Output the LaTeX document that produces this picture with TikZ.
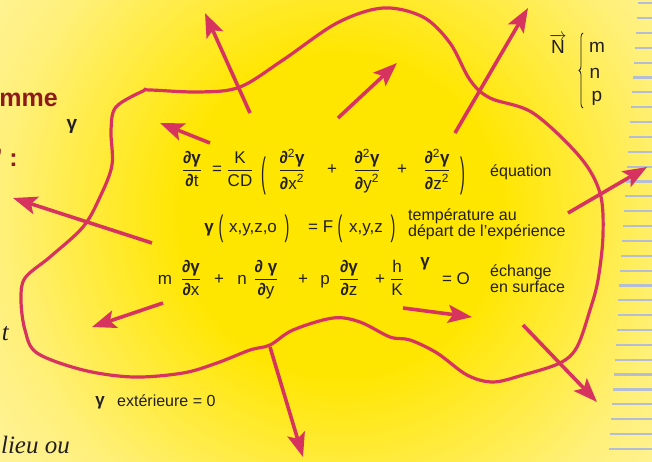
\documentclass[tikz,border=0pt]{standalone}
\usepackage{fontspec}
\setmainfont{Liberation Serif}
\setsansfont{Liberation Sans}
\usepackage{amsmath}
\usetikzlibrary{arrows.meta, decorations.pathreplacing}

% a fraction whose parts are plain text, bar drawn a little heavier
\newcommand{\pfrac}[2]{\ensuremath{\genfrac{}{}{1.1pt}{0}{\text{#1}}{\text{#2}}}}
\newcommand{\dpart}{{\bfseries ∂}}
\newcommand{\gam}{{\bfseries γ}}
\newcommand{\tallp}[2][1.35]{\scalebox{0.85}[#1]{#2}}

\begin{document}
\begin{tikzpicture}[
    x=1pt, y=-1pt,
    every node/.style={font=\sffamily, inner sep=0pt},
]

% ---------------------------------------------------------------- colours
\definecolor{sunyellow}{HTML}{FFE600}   % heart of the body
\definecolor{sunmid}{HTML}{FFF07A}
\definecolor{sunpale}{HTML}{FFF8D2}
\definecolor{raycolor}{HTML}{D6345F}    % outline and flux arrows
\definecolor{inkcolor}{HTML}{231F20}
\definecolor{titlered}{HTML}{8E1B1B}
\definecolor{stripecolor}{HTML}{B4BDD6}

\pgfdeclareradialshading{sunglow}{\pgfpointorigin}{%
    color(0bp)=(sunyellow); color(8bp)=(sunyellow);
    color(17bp)=(sunmid); color(29bp)=(sunpale);
    color(42bp)=(white); color(50bp)=(white)}

% ---------------------------------------------------------------- styles
\tikzset{
    ray/.style={
        -{Stealth[length=24pt, width=18pt, inset=5pt]},
        line width=3.6pt, raycolor,
    },
    rim/.style={line width=3.2pt, raycolor},
    stripe/.style={line width=2.2pt, stripecolor},
    eqpart/.style={font=\sffamily\fontsize{17}{20}\selectfont, text=inkcolor},
    note/.style={
        font=\sffamily\fontsize{16}{14.5}\selectfont, text=inkcolor,
        align=left,
    },
    normal/.style={font=\sffamily\fontsize{19}{25}\selectfont, text=inkcolor},
    cutbold/.style={font=\sffamily\bfseries\fontsize{25}{25}\selectfont,
        text=titlered},
    cutital/.style={font=\rmfamily\itshape\fontsize{25}{25}\selectfont,
        text=inkcolor},
}

% ================================================================
% GEOMETRY (pixels, y grows downward)
%   page           652 x 462
%   equation rows  baseline y = 175 / 233 / 284
%   notes          x = 490 (right of the equations)
%   stripes        right edge, every 14.85
% ================================================================

\useasboundingbox (0,0) rectangle (652,462);
\clip (0,0) rectangle (652,462);

% ---------------------------------------------------------------- background
\fill[sunpale] (0,0) rectangle (652,462);
\shade[shading=sunglow] (340,215) circle (500);

% page edges of the book, longer towards the bottom
\foreach \k in {0,...,31} {
    \pgfmathsetmacro{\yy}{3.3+14.85*\k}
    \draw[stripe] ({638-0.065*\yy},\yy) -- (652,\yy);
}

% ---------------------------------------------------------------- the body
\draw[rim] plot[smooth cycle, tension=0.55] coordinates {
    (150,90) (200,92) (240,87) (283,60) (337,23) (383,8) (423,17)
    (450,43) (470,80) (490,98) (533,113) (580,157) (600,193) (603,235)
    (598,280) (590,310) (577,347) (560,363) (523,375) (493,382)
    (467,375) (437,353) (410,340) (390,337) (360,322) (333,318)
    (293,330) (270,345) (250,350) (217,363) (183,373) (133,377)
    (83,370) (37,353) (25,330) (21,300) (25,278) (50,257) (83,227)
    (100,197) (112,165) (111,130) (116,107) (143,91)
};

% ---------------------------------------------------------------- flux arrows
\foreach \ax/\ay/\bx/\by in {250/113/205/13, 338/118/397/63,
        455/133/528/8, 210/143/160/123, 152/243/13/198, 163/303/92/327,
        270/347/303/457, 403/308/472/317, 523/325/597/402,
        568/213/647/167} {
    \draw[ray] (\ax,\ay) -- (\bx,\by);
}

% ---------------------------------------------------------------- heat equation
\node[eqpart, anchor=base] (dgdt) at (192,175) {\pfrac{\bfseries ∂γ}{\dpart t}};
\node[eqpart, anchor=base] (eqa) at (217,175) {=};
\node[eqpart, anchor=base] (kcd) at (240,175) {\pfrac{K}{CD}};
\node[eqpart] (lpar) at (264,176) {\tallp[2.4]{(}};
\node[eqpart, anchor=base] (dxx) at (292,175)
    {\pfrac{\bfseries ∂\textsuperscript{\mdseries 2}γ}{\dpart x\textsuperscript{2}}};
\node[eqpart, anchor=base] (pa) at (332,175) {+};
\node[eqpart, anchor=base] (dyy) at (367,175)
    {\pfrac{\bfseries ∂\textsuperscript{\mdseries 2}γ}{\dpart y\textsuperscript{2}}};
\node[eqpart, anchor=base] (pb) at (402,175) {+};
\node[eqpart, anchor=base] (dzz) at (437,175)
    {\pfrac{\bfseries ∂\textsuperscript{\mdseries 2}γ}{\dpart z\textsuperscript{2}}};
\node[eqpart] (rpar) at (463,176) {\tallp[2.4]{)}};
\node[note, anchor=west] (equ) at (490,172) {équation};

% ---------------------------------------------------------------- initial state
\node[eqpart, anchor=base] (g0) at (209,233) {\gam};
\node[eqpart] (lp1) at (221,229) {\tallp[1.75]{(}};
\node[eqpart, anchor=base] (xyzo) at (253,233) {x,y,z,o};
\node[eqpart] (rp1) at (287,229) {\tallp[1.75]{)}};
\node[eqpart, anchor=base] (eqb) at (313,233) {=};
\node[eqpart, anchor=base] (ff) at (328,233) {F};
\node[eqpart] (lp2) at (340,229) {\tallp[1.75]{(}};
\node[eqpart, anchor=base] (xyz) at (366,233) {x,y,z};
\node[eqpart] (rp2) at (393,229) {\tallp[1.75]{)}};
\node[note, anchor=west] (start) at (408,224)
    {température au\\départ de l’expérience};

% ---------------------------------------------------------------- surface exchange
\node[eqpart, anchor=base] (mm) at (165,284) {m};
\node[eqpart, anchor=base] (dgx) at (191,284) {\pfrac{\bfseries ∂γ}{\dpart x}};
\node[eqpart, anchor=base] (pc) at (219,284) {+};
\node[eqpart, anchor=base] (nn) at (242,284) {n};
\node[eqpart, anchor=base] (dgy) at (266,284) {\pfrac{\bfseries ∂ γ}{\dpart y}};
\node[eqpart, anchor=base] (pd) at (303,284) {+};
\node[eqpart, anchor=base] (pp) at (325,284) {p};
\node[eqpart, anchor=base] (dgz) at (349,284) {\pfrac{\bfseries ∂γ}{\dpart z}};
\node[eqpart, anchor=base] (pe) at (380,284) {+};
\node[eqpart, anchor=base] (hk) at (397,284) {\pfrac{h}{K}};
\node[eqpart] (gh) at (425,264) {\gam};
\node[eqpart, anchor=base] (zero) at (456,284) {= O};
\node[note, anchor=west] (exch) at (490,279) {échange\\en surface};

% ---------------------------------------------------------------- normal vector
\node[normal] (nvec) at (558,44) {$\overrightarrow{\text{N}}$};
\draw[inkcolor, line width=0.8pt, decorate,
      decoration={brace, amplitude=4pt}] (583,108) -- (583,33);
\node[normal] (nm) at (597,47) {m};
\node[normal] (nn2) at (595,73) {n};
\node[normal] (np) at (597,98) {p};

% ---------------------------------------------------------------- outside
\node[eqpart] (gext) at (100,403) {\gam};
\node[note, anchor=west] (ext) at (117,401) {extérieure = 0};

% ---------------------------------------------------------------- cut-off page text
\node[cutbold, anchor=base east] (mme) at (58,107) {mme};
\node[eqpart, font=\sffamily\bfseries\fontsize{19}{20}\selectfont] (gl) at (72,126) {γ};
\node[cutbold, anchor=base east] (colon) at (18,167) {’ :};
\node[cutital, anchor=base east] (tt) at (9,340) {t};
\node[cutital, anchor=base east] (lieu) at (70,453) {lieu ou};

\end{tikzpicture}
\end{document}
